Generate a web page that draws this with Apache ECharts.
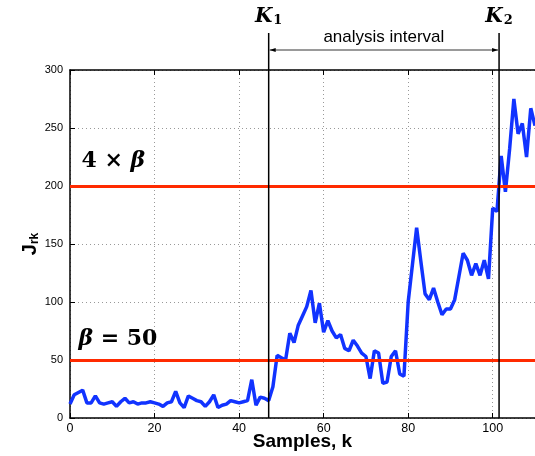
<!DOCTYPE html>
<html lang="en">
<head>
  <meta charset="UTF-8">
  <title>J_rk analysis interval</title>
  <script src="https://cdn.jsdelivr.net/npm/echarts@6.0.0/dist/echarts.min.js"></script>
  <style>
    html, body { margin: 0; padding: 0; background: #fff; }
  </style>
</head>
<body>
  <div id="chart" style="width: 535px; height: 456px;"></div>

  <script>
    // samples k = 0..110
    const jrk = [
      12, 20, 22, 24, 13, 13, 19, 13, 12, 13,
      14, 10, 14, 17, 13, 14, 12, 13, 13, 14,
      13, 12, 10, 13, 14, 23, 13, 9, 19, 17,
      15, 14, 10, 14, 20, 9, 11, 12, 15, 14,
      13, 14, 15, 33, 11, 18, 17, 15, 27, 54,
      52, 50, 73, 65, 80, 88, 96, 110, 82, 99,
      74, 84, 75, 69, 72, 60, 58, 67, 62, 56,
      53, 34, 58, 56, 30, 31, 53, 58, 38, 36,
      100, 132, 164, 135, 107, 102, 112, 100, 89, 94,
      94, 102, 122, 142, 136, 123, 133, 123, 136, 120,
      181, 178, 226, 195, 232, 275, 245, 254, 225, 267,
      252
    ];
    const samples = jrk.map((v, i) => i);
    const thresholds = [50, 200];
    const k1 = 47, k2 = 101.5;
    const xTicks = [0, 20, 40, 60, 80, 100];
    const yTicks = [0, 50, 100, 150, 200, 250, 300];

    const chart = echarts.init(document.getElementById('chart'), null, {renderer: 'canvas'});
    const labelFont = 'Liberation Sans, Arial, Helvetica, sans-serif';

    chart.setOption({
      animation: false,
      grid: { left: 70, right: 0, top: 70, bottom: 38, outerBoundsMode: 'none' },
      xAxis: [{
        type: 'value', min: 0, max: 110, interval: 20,
        axisLine: { show: true, onZero: false, lineStyle: { color: '#000', width: 1.5 } },
        axisTick: { inside: true, length: 5, lineStyle: { color: '#000' } },
        axisLabel: { color: '#000', fontSize: 12.5, fontFamily: labelFont, margin: 4,
          formatter: v => xTicks.includes(v) ? String(v) : '' },
        splitLine: { show: true, lineStyle: { color: '#999', type: [1, 3], width: 1 } }
      }, {
        type: 'value', min: 0, max: 110, interval: 20, position: 'top',
        axisLine: { show: true, onZero: false, lineStyle: { color: '#000', width: 1.5 } },
        axisTick: { inside: true, length: 5, lineStyle: { color: '#000' } },
        axisLabel: { show: false }, splitLine: { show: false }
      }],
      yAxis: {
        type: 'value', min: 0, max: 300, interval: 50,
        axisLine: { show: true, onZero: false, lineStyle: { color: '#000', width: 1.5 } },
        axisTick: { show: true, inside: true, length: 5, lineStyle: { color: '#000' } },
        axisLabel: { color: '#000', fontSize: 11, fontFamily: labelFont, margin: 7,
          formatter: v => yTicks.includes(v) ? String(v) : '' },
        splitLine: { show: true, lineStyle: { color: '#999', type: [1, 3], width: 1 } }
      },
      series: [{
        type: 'line',
        data: samples.map((k, i) => [k, jrk[i]]),
        showSymbol: false,
        lineStyle: { color: '#1133ff', width: 3.5 },
        itemStyle: { color: '#1133ff' },
        markLine: {
          silent: true, symbol: 'none', label: { show: false },
          lineStyle: { color: '#ff2a00', width: 3, type: 'solid' },
          data: thresholds.map(t => ({ yAxis: t }))
        },
        z: 2
      }]
    });

    // annotations placed through the axis scales
    const px = v => chart.convertToPixel({ xAxisIndex: 0, yAxisIndex: 0 }, v);
    const k1Bot = px([k1, 0]), k2Bot = px([k2, 0]);
    const origin = px([0, 0]), mid = px([55, 150]);
    const topY = 33, arrowY = 50;
    const b200 = px([2.7, 200]), b50 = px([2, 50]);
    const mathFont = 'DejaVu Serif, Liberation Serif, serif';

    chart.setOption({
      graphic: [
        { type: 'line', z: 10, shape: { x1: k1Bot[0], y1: topY, x2: k1Bot[0], y2: k1Bot[1] }, style: { stroke: '#000', lineWidth: 1.5 } },
        { type: 'line', z: 10, shape: { x1: k2Bot[0], y1: topY, x2: k2Bot[0], y2: k2Bot[1] }, style: { stroke: '#000', lineWidth: 1.5 } },
        { type: 'line', z: 10, shape: { x1: k1Bot[0] + 1, y1: arrowY, x2: k2Bot[0] - 1, y2: arrowY }, style: { stroke: '#000', lineWidth: 0.8 } },
        { type: 'polygon', z: 10, shape: { points: [[k1Bot[0] + 1, arrowY], [k1Bot[0] + 7, arrowY - 2], [k1Bot[0] + 7, arrowY + 2]] }, style: { fill: '#000' } },
        { type: 'polygon', z: 10, shape: { points: [[k2Bot[0] - 1, arrowY], [k2Bot[0] - 7, arrowY - 2], [k2Bot[0] - 7, arrowY + 2]] }, style: { fill: '#000' } },
        { type: 'text', z: 10, x: (k1Bot[0] + k2Bot[0]) / 2, y: 37,
          style: { text: 'analysis interval', font: '17px ' + labelFont, fill: '#000', align: 'center', verticalAlign: 'middle' } },
        { type: 'text', z: 10, x: k1Bot[0], y: 17,
          style: { text: '{k|K}{s|1}', align: 'center', verticalAlign: 'middle',
            rich: { k: { font: 'italic bold 20px ' + mathFont, fill: '#000' },
                    s: { font: 'bold 13px ' + mathFont, fill: '#000', padding: [8, 0, 0, 1] } } } },
        { type: 'text', z: 10, x: k2Bot[0], y: 17,
          style: { text: '{k|K}{s|2}', align: 'center', verticalAlign: 'middle',
            rich: { k: { font: 'italic bold 20px ' + mathFont, fill: '#000' },
                    s: { font: 'bold 13px ' + mathFont, fill: '#000', padding: [8, 0, 0, 1] } } } },
        { type: 'text', z: 10, x: b200[0], y: b200[1] - 25,
          style: { text: '{n|4 × }{b|β}', verticalAlign: 'middle',
            rich: { n: { font: 'bold 22px ' + mathFont, fill: '#000' },
                    b: { font: 'italic bold 22px ' + mathFont, fill: '#000' } } } },
        { type: 'text', z: 10, x: b50[0], y: b50[1] - 21,
          style: { text: '{b|β}{n| = 50}', verticalAlign: 'middle',
            rich: { n: { font: 'bold 22px ' + mathFont, fill: '#000' },
                    b: { font: 'italic bold 22px ' + mathFont, fill: '#000' } } } },
        // axis titles
        { type: 'text', z: 10, x: mid[0], y: origin[1] + 24,
          style: { text: 'Samples, k', font: 'bold 19px ' + labelFont, fill: '#000', align: 'center', verticalAlign: 'middle' } },
        { type: 'text', z: 10, x: 30, y: mid[1], rotation: Math.PI / 2,
          style: { text: '{j|J}{s|rk}', align: 'center', verticalAlign: 'middle',
            rich: { j: { font: 'bold 20px ' + labelFont, fill: '#000' },
                    s: { font: 'bold 12px ' + labelFont, fill: '#000', padding: [9, 0, 0, 0] } } } }
      ]
    });
  </script>
</body>
</html>
